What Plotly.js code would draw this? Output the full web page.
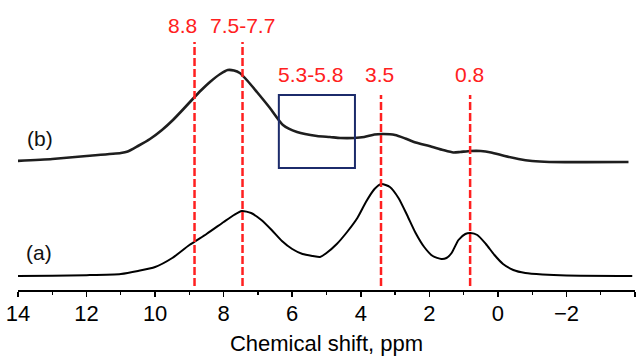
<!DOCTYPE html>
<html>
<head>
<meta charset="utf-8">
<script src="https://cdn.plot.ly/plotly-3.0.1.min.js"></script>
<style>html,body{margin:0;padding:0;background:#fff;}#chart{width:637px;height:356px;}</style>
</head>
<body>
<div id="chart"></div>
<script>
// Chemical shift (ppm) and intensity (a.u.)
const shiftA = [14.0, 13.0, 12.0, 11.0, 10.5, 10.0, 9.5, 9.0, 8.5, 8.0, 7.7, 7.47, 7.2, 6.9, 6.6, 6.3, 6.0, 5.7, 5.4, 5.19, 5.0, 4.7, 4.4, 4.1, 3.85, 3.6, 3.4, 3.15, 2.9, 2.65, 2.4, 2.15, 1.9, 1.65, 1.5, 1.35, 1.15, 0.95, 0.8, 0.6, 0.35, 0.1, -0.15, -0.45, -0.8, -1.3, -2.0, -3.92];
const intensityA = [14, 14.3, 14.8, 16, 19, 23, 32, 45, 56, 68, 75, 79, 77, 70, 60, 49, 41, 36, 34, 33, 37, 46, 58, 72, 88, 101, 106, 103, 92, 75, 57, 43, 34, 31, 32, 37, 50, 56, 57, 55, 46, 35, 26, 20, 17, 15.5, 14.5, 14];

const shiftB = [14.05, 13.0, 12.0, 11.0, 10.8, 10.5, 10.15, 9.8, 9.48, 9.2, 8.93, 8.65, 8.4, 8.1, 7.88, 7.7, 7.53, 7.3, 7.03, 6.65, 6.27, 5.86, 5.28, 4.9, 4.6, 4.2, 3.9, 3.6, 3.35, 3.0, 2.7, 2.4, 2.0, 1.6, 1.3, 1.1, 0.8, 0.5, 0.2, -0.2, -0.6, -1.0, -1.5, -3.81];
const intensityB = [129, 131, 134, 137, 138.5, 144, 151, 160, 170, 180, 190, 200, 208, 216, 220, 219.5, 217, 209, 198, 182, 165, 158, 154, 153, 152, 152, 153, 155.5, 156, 155, 151.5, 147.5, 144, 140, 137.5, 138, 139, 139, 137.5, 134, 131, 129, 128, 128];

// Marker lines (ppm) with their top ends, and their labels
const markerShifts = [8.85, 7.45, 3.41, 0.81];
const markerTops = [248, 248, 195, 195];
const markerBottom = 4;
const labelTexts = ["8.8", "7.5-7.7", "5.3-5.8", "3.5", "0.8"];
const labelShifts = [9.19, 7.44, 5.48, 3.45, 0.84];
const labelLevels = [265, 265, 215.5, 215.5, 215.5];

// Highlight box (ppm range and intensity range)
const boxShift = [6.39, 4.17];
const boxLevel = [122, 195];

// Curve labels
const curveNames = ["(a)", "(b)"];
const curveLabelShift = [13.4, 13.37];
const curveLabelLevel = [38, 152];

// Axis ticks
const tickVals = [14, 12, 10, 8, 6, 4, 2, 0, -2, -4];
const tickText = ["14", "12", "10", "8", "6", "4", "2", "0", "\u22122", ""];
const minorVals = [13, 11, 9, 7, 5, 3, 1, -1, -3];

const FONT = "Liberation Sans, Arial, sans-serif";

const traces = [
  {x: shiftA, y: intensityA, mode: "lines", line: {color: "#000", width: 2, shape: "spline", smoothing: 0.6}, hoverinfo: "skip", showlegend: false},
  {x: shiftB, y: intensityB, mode: "lines", line: {color: "#1e1e1e", width: 2.6, shape: "spline", smoothing: 0.6}, hoverinfo: "skip", showlegend: false}
];

const shapes = markerShifts.map((s, i) => ({
  type: "line", xref: "x", yref: "y", x0: s, x1: s, y0: markerBottom, y1: markerTops[i],
  line: {color: "#ff2020", width: 2.5, dash: "8px,3px"}
}));
shapes.push({
  type: "rect", xref: "x", yref: "y", x0: boxShift[0], x1: boxShift[1], y0: boxLevel[0], y1: boxLevel[1],
  line: {color: "#1c2b6b", width: 2}, fillcolor: "rgba(0,0,0,0)"
});

const annotations = labelTexts.map((t, i) => ({
  text: t, x: labelShifts[i], y: labelLevels[i], xref: "x", yref: "y",
  showarrow: false, xanchor: "center", yanchor: "middle",
  font: {family: FONT, size: 21, color: "#ff2020"}
})).concat(curveNames.map((t, i) => ({
  text: t, x: curveLabelShift[i], y: curveLabelLevel[i], xref: "x", yref: "y",
  showarrow: false, xanchor: "center", yanchor: "middle",
  font: {family: FONT, size: 21, color: "#111"}
})));

const layout = {
  width: 637, height: 356,
  margin: {l: 18, r: 2, t: 10, b: 66, pad: 0},
  paper_bgcolor: "#fff", plot_bgcolor: "#fff",
  xaxis: {
    range: [14, -4], autorange: false,
    tickmode: "array", tickvals: tickVals, ticktext: tickText,
    ticks: "outside", ticklen: 5, tickwidth: 1.5, tickcolor: "#000",
    ticklabelstandoff: -2,
    showline: true, linecolor: "#000", linewidth: 2,
    showgrid: false, zeroline: false,
    tickfont: {family: FONT, size: 22, color: "#000"},
    minor: {tickmode: "array", tickvals: minorVals, ticks: "outside", ticklen: 3, tickwidth: 1.2, tickcolor: "#000", showgrid: false},
    title: {text: "Chemical shift, ppm", font: {family: FONT, size: 22, color: "#000"}, standoff: 17}
  },
  yaxis: {range: [0, 280], autorange: false, visible: false, showgrid: false, zeroline: false},
  shapes: shapes,
  annotations: annotations
};

Plotly.newPlot("chart", traces, layout, {staticPlot: true, displayModeBar: false});
</script>
</body>
</html>
